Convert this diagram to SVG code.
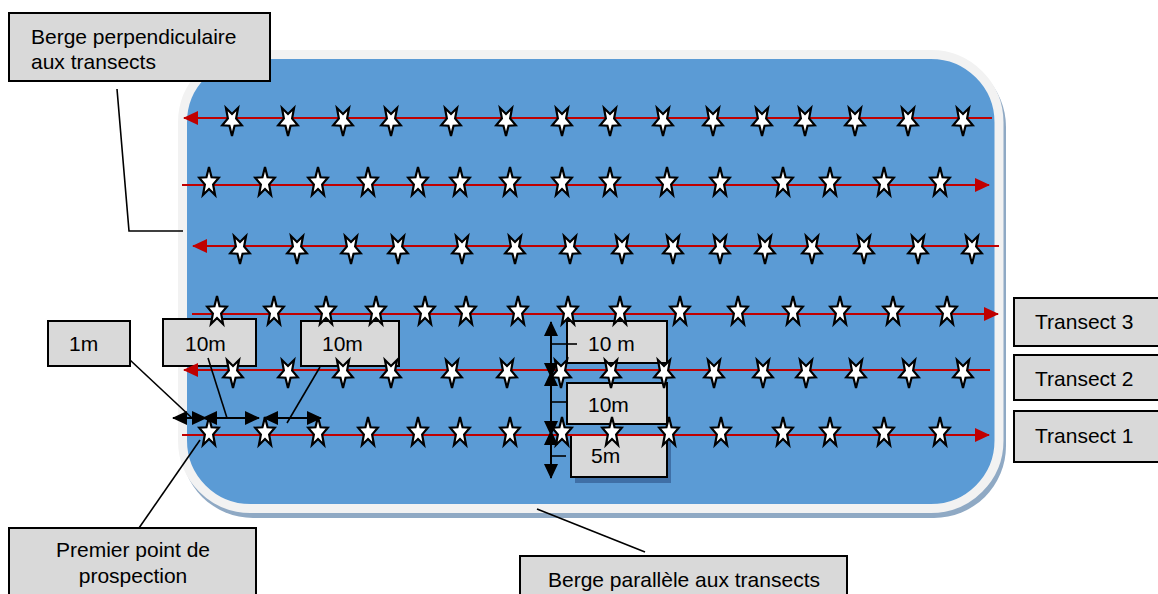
<svg xmlns="http://www.w3.org/2000/svg" xmlns:xlink="http://www.w3.org/1999/xlink" width="1158" height="594" viewBox="0 0 1158 594">
  <style>
    .box { fill: #D9D9D9; stroke: #000; stroke-width: 2; }
    .lbl { font-family: "Liberation Sans", Arial, sans-serif; font-size: 21px; fill: #000; }
    .mid { text-anchor: middle; }
    .lead { stroke: #000; stroke-width: 1.6; fill: none; }
    .tr { stroke: #C00000; stroke-width: 2; fill: none; }
    .dim { stroke: #000; stroke-width: 2; fill: none; marker-start: url(#kh); marker-end: url(#kh); }
    .star { fill: #fff; stroke: #000; stroke-width: 2.2; stroke-linejoin: miter; }
  </style>
  <defs>
    <!-- red transect arrowhead -->
    <marker id="rh" markerUnits="userSpaceOnUse" viewBox="0 0 15 14" refX="14" refY="7" markerWidth="15" markerHeight="14" orient="auto">
      <path d="M0,0 L15,7 L0,14 Z" fill="#C00000"/>
    </marker>
    <!-- black dimension arrowhead -->
    <marker id="kh" markerUnits="userSpaceOnUse" viewBox="0 0 15 14" refX="14" refY="7" markerWidth="15" markerHeight="14" orient="auto-start-reverse">
      <path d="M0,0 L15,7 L0,14 Z" fill="#000"/>
    </marker>
    <!-- survey point, upright and flipped -->
    <path id="su" class="star" d="M0,-18 L2.55,-7.77 L9.8,-7.29 L4.12,-0.49 L6.05,10.04 L0,4.01 L-6.05,10.04 L-4.12,-0.49 L-9.8,-7.29 L-2.55,-7.77 Z"/>
    <path id="sd" class="star" d="M0,18 L2.55,7.77 L9.8,7.29 L4.12,0.49 L6.05,-10.04 L0,-4.01 L-6.05,-10.04 L-4.12,0.49 L-9.8,7.29 L-2.55,7.77 Z"/>
  </defs>

  <rect width="1158" height="594" fill="#fff"/>

  <!-- water body -->
  <g id="lake">
    <rect x="181" y="55" width="825" height="463" rx="72" fill="#8FA9C4"/>
    <rect x="182.5" y="54.5" width="816.5" height="454" rx="68" fill="#5B9BD5" stroke="#F2F2F2" stroke-width="9"/>
  </g>

  <!-- labels -->
  <g id="lbl-berge-perp">
    <rect class="box" x="9" y="13" width="261" height="68"/>
    <text class="lbl" x="31" y="44">Berge perpendiculaire</text>
    <text class="lbl" x="31" y="69">aux transects</text>
  </g>
  <g id="lbl-transect-3">
    <rect class="box" x="1014" y="298" width="150" height="48"/>
    <text class="lbl" x="1035" y="329">Transect 3</text>
  </g>
  <g id="lbl-transect-2">
    <rect class="box" x="1014" y="355" width="150" height="45"/>
    <text class="lbl" x="1035" y="386">Transect 2</text>
  </g>
  <g id="lbl-transect-1">
    <rect class="box" x="1014" y="411" width="150" height="51"/>
    <text class="lbl" x="1035" y="443">Transect 1</text>
  </g>
  <g id="lbl-1m">
    <rect class="box" x="48" y="321" width="82" height="45"/>
    <text class="lbl" x="69" y="351">1m</text>
  </g>
  <g id="lbl-10m-a">
    <rect class="box" x="163" y="319" width="93" height="47"/>
    <text class="lbl" x="185" y="351">10m</text>
  </g>
  <g id="lbl-10m-b">
    <rect class="box" x="301" y="321" width="98" height="45"/>
    <text class="lbl" x="322" y="351">10m</text>
  </g>
  <g id="lbl-10m-c">
    <rect class="box" x="567" y="321" width="100" height="42"/>
    <text class="lbl" x="588" y="351">10 m</text>
  </g>
  <g id="lbl-10m-d">
    <rect class="box" x="567" y="383" width="100" height="41"/>
    <text class="lbl" x="588" y="412">10m</text>
  </g>
  <g id="lbl-5m">
    <rect x="575" y="441" width="96" height="42" fill="#3F6FA6"/>
    <rect class="box" x="571" y="435" width="96" height="42"/>
    <text class="lbl" x="591" y="463">5m</text>
  </g>
  <g id="lbl-premier">
    <rect class="box" x="9" y="528" width="247" height="80"/>
    <text class="lbl mid" x="133" y="557">Premier point de</text>
    <text class="lbl mid" x="133" y="583">prospection</text>
  </g>
  <g id="lbl-berge-par">
    <rect class="box" x="520" y="556" width="327" height="50"/>
    <text class="lbl mid" x="684" y="587">Berge parallèle aux transects</text>
  </g>

  <!-- transect lines -->
  <g id="transects">
    <line class="tr" x1="992" y1="118" x2="184" y2="118" marker-end="url(#rh)"/>
    <line class="tr" x1="182" y1="185" x2="989" y2="185" marker-end="url(#rh)"/>
    <line class="tr" x1="999" y1="246" x2="193" y2="246" marker-end="url(#rh)"/>
    <line class="tr" x1="192" y1="314" x2="998" y2="314" marker-end="url(#rh)"/>
    <line class="tr" x1="990" y1="370" x2="184" y2="370" marker-end="url(#rh)"/>
    <line class="tr" x1="182" y1="435" x2="989" y2="435" marker-end="url(#rh)"/>
  </g>

  <!-- survey points -->
  <g id="points">
    <g id="row-1" transform="translate(0,118)">
      <use href="#sd" x="232"/><use href="#sd" x="288"/><use href="#sd" x="343"/><use href="#sd" x="391"/><use href="#sd" x="451"/><use href="#sd" x="506"/><use href="#sd" x="562"/><use href="#sd" x="610"/><use href="#sd" x="663"/><use href="#sd" x="713"/><use href="#sd" x="762"/><use href="#sd" x="805"/><use href="#sd" x="855"/><use href="#sd" x="908"/><use href="#sd" x="963"/>
    </g>
    <g id="row-2" transform="translate(0,185)">
      <use href="#su" x="209"/><use href="#su" x="265"/><use href="#su" x="318"/><use href="#su" x="368"/><use href="#su" x="418"/><use href="#su" x="460"/><use href="#su" x="510"/><use href="#su" x="562"/><use href="#su" x="610"/><use href="#su" x="667"/><use href="#su" x="720"/><use href="#su" x="783"/><use href="#su" x="830"/><use href="#su" x="884"/><use href="#su" x="940"/>
    </g>
    <g id="row-3" transform="translate(0,246)">
      <use href="#sd" x="240"/><use href="#sd" x="297"/><use href="#sd" x="351"/><use href="#sd" x="398"/><use href="#sd" x="462"/><use href="#sd" x="515"/><use href="#sd" x="570"/><use href="#sd" x="622"/><use href="#sd" x="673"/><use href="#sd" x="720"/><use href="#sd" x="765"/><use href="#sd" x="812"/><use href="#sd" x="864"/><use href="#sd" x="918"/><use href="#sd" x="972"/>
    </g>
    <g id="row-4" transform="translate(0,314)">
      <use href="#su" x="217"/><use href="#su" x="274"/><use href="#su" x="326"/><use href="#su" x="376"/><use href="#su" x="425"/><use href="#su" x="466"/><use href="#su" x="518"/><use href="#su" x="568"/><use href="#su" x="620"/><use href="#su" x="680"/><use href="#su" x="738"/><use href="#su" x="793"/><use href="#su" x="840"/><use href="#su" x="893"/><use href="#su" x="947"/>
    </g>
    <g id="row-5" transform="translate(0,370)">
      <use href="#sd" x="233"/><use href="#sd" x="288"/><use href="#sd" x="343"/><use href="#sd" x="391"/><use href="#sd" x="452"/><use href="#sd" x="507"/><use href="#sd" x="561"/><use href="#sd" x="611"/><use href="#sd" x="664"/><use href="#sd" x="714"/><use href="#sd" x="763"/><use href="#sd" x="806"/><use href="#sd" x="856"/><use href="#sd" x="909"/><use href="#sd" x="963"/>
    </g>
    <g id="row-6" transform="translate(0,435)">
      <use href="#su" x="209"/><use href="#su" x="265"/><use href="#su" x="318"/><use href="#su" x="368"/><use href="#su" x="418"/><use href="#su" x="460"/><use href="#su" x="510"/><use href="#su" x="562"/><use href="#su" x="612"/><use href="#su" x="669"/><use href="#su" x="721"/><use href="#su" x="783"/><use href="#su" x="830"/><use href="#su" x="884"/><use href="#su" x="940"/>
    </g>
  </g>

  <!-- leader lines and dimension arrows -->
  <g id="connectors">
    <polyline class="lead" points="117,89 129,231 183,231"/>
    <line class="lead" x1="130" y1="360" x2="192" y2="418"/>
    <line class="lead" x1="208" y1="358" x2="227" y2="418"/>
    <line class="lead" x1="320" y1="367" x2="287" y2="423"/>
    <line class="lead" x1="200" y1="440" x2="139" y2="528"/>
    <line class="lead" x1="537" y1="509" x2="645" y2="552"/>
    <line class="lead" x1="551" y1="344" x2="577" y2="344"/>
    <line class="lead" x1="551" y1="402" x2="567" y2="402"/>
    <line class="lead" x1="551" y1="456" x2="566" y2="456"/>

    <line class="dim" x1="173" y1="418" x2="206" y2="418"/>
    <line class="dim" x1="203" y1="418" x2="259" y2="418"/>
    <line class="dim" x1="264" y1="418" x2="321" y2="418"/>
    <line class="dim" x1="551" y1="322" x2="551" y2="377"/>
    <line class="dim" x1="551" y1="372" x2="551" y2="435"/>
    <line class="dim" x1="551" y1="431" x2="551" y2="478"/>
  </g>
</svg>
